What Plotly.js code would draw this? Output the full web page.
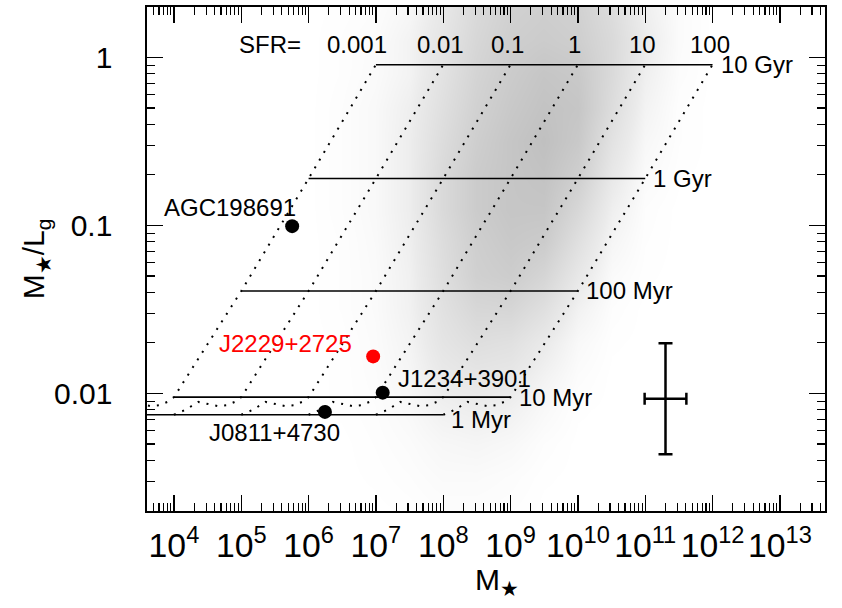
<!DOCTYPE html>
<html>
<head>
<meta charset="utf-8">
<script src="https://cdn.plot.ly/plotly-3.0.1.min.js"></script>
<style>
  html, body { margin: 0; padding: 0; background: #fff; }
  #chart { width: 842px; height: 608px; }
</style>
</head>
<body>
<div id="chart"></div>
<script>
// Constant-SFR model tracks: stellar mass-to-light ratio in g band vs age
const sfrValues = [0.001, 0.01, 0.1, 1, 10, 100];           // Msun / yr
const sfrLabels = ['0.001', '0.01', '0.1', '1', '10', '100'];
const modelAges = [1e6, 1.5e6, 2.3e6, 3.1e6, 4.5e6, 6e6, 8e6, 1e7, 1e8, 1e9, 1e10]; // yr
const modelML   = [0.00746, 0.0080, 0.0089, 0.0087, 0.0084, 0.0085, 0.0089, 0.0095, 0.0407, 0.19, 0.905];

// Iso-age lines drawn across the SFR range
const ageLineAges   = [1e6, 1e7, 1e8, 1e9, 1e10];
const ageLineLabels = ['1 Myr', '10 Myr', '100 Myr', '1 Gyr', '10 Gyr'];

// Individual galaxies
const galaxyNames  = ['AGC198691', 'J2229+2725', 'J1234+3901', 'J0811+4730'];
const galaxyMass   = [5.7e5, 9.1e6, 1.26e7, 1.75e6];
const galaxyML     = [0.099, 0.0166, 0.0101, 0.00776];
const galaxyColors = ['#000000', '#ff0000', '#000000', '#000000'];

// Typical uncertainty (dex) shown as a single cross
const errCenterMass = 2.0e11;
const errCenterML   = 0.0093;
const errDexMass    = 0.31;
const errDexML      = 0.33;

// Comparison sample: relative point density on a grid of log M* (columns) and log M*/Lg (rows)
const densLogM  = [6, 6.5, 7, 7.5, 8, 8.5, 9, 9.5, 10, 10.5, 11, 11.5, 12, 12.5];
const densLogML = [-2.7, -2.5, -2.3, -2.1, -1.9, -1.7, -1.5, -1.3, -1.1, -0.9, -0.7, -0.5, -0.3, -0.1, 0.1, 0.3];
const density = [
  [0, 0,    0,    0.01, 0.03, 0.03, 0.02, 0,    0,    0,    0,    0,    0, 0],
  [0, 0,    0.01, 0.03, 0.06, 0.06, 0.04, 0.01, 0,    0,    0,    0,    0, 0],
  [0, 0,    0.02, 0.05, 0.10, 0.12, 0.09, 0.03, 0,    0,    0,    0,    0, 0],
  [0, 0.01, 0.03, 0.08, 0.18, 0.22, 0.18, 0.08, 0.01, 0,    0,    0,    0, 0],
  [0, 0.01, 0.04, 0.11, 0.27, 0.33, 0.30, 0.16, 0.04, 0,    0,    0,    0, 0],
  [0, 0.01, 0.05, 0.14, 0.36, 0.47, 0.43, 0.27, 0.08, 0.01, 0,    0,    0, 0],
  [0, 0.02, 0.06, 0.17, 0.42, 0.60, 0.62, 0.45, 0.17, 0.03, 0,    0,    0, 0],
  [0, 0.02, 0.06, 0.18, 0.47, 0.72, 0.78, 0.63, 0.31, 0.06, 0.01, 0,    0, 0],
  [0, 0.02, 0.07, 0.20, 0.50, 0.75, 0.85, 0.80, 0.45, 0.12, 0.02, 0,    0, 0],
  [0, 0.03, 0.08, 0.22, 0.55, 0.80, 0.90, 0.90, 0.60, 0.20, 0.03, 0,    0, 0],
  [0, 0.03, 0.08, 0.22, 0.55, 0.80, 0.90, 0.95, 0.75, 0.30, 0.06, 0.01, 0, 0],
  [0, 0.03, 0.08, 0.22, 0.50, 0.75, 0.90, 1.00, 0.85, 0.40, 0.10, 0.02, 0, 0],
  [0, 0.03, 0.08, 0.20, 0.45, 0.70, 0.85, 0.95, 0.90, 0.50, 0.15, 0.02, 0, 0],
  [0, 0.02, 0.06, 0.15, 0.40, 0.65, 0.80, 0.90, 0.85, 0.55, 0.20, 0.04, 0, 0],
  [0, 0.02, 0.05, 0.15, 0.35, 0.60, 0.75, 0.80, 0.75, 0.55, 0.25, 0.05, 0, 0],
  [0, 0.01, 0.03, 0.10, 0.30, 0.55, 0.70, 0.75, 0.70, 0.50, 0.20, 0.05, 0, 0]
];

const FONT = 'Liberation Sans, Arial, Helvetica, sans-serif';
const xRangeLog = [3.6, 13.67];
const yRangeLog = [-2.7, 0.3];

const traces = [];

// Sample density (base linear axes in log units, drawn underneath)
traces.push({
  type: 'heatmap',
  x: densLogM, y: densLogML, z: density,
  xaxis: 'x', yaxis: 'y',
  zmin: 0, zmax: 1, zsmooth: 'best', showscale: false, hoverinfo: 'skip',
  colorscale: [[0, '#ffffff'], [0.25, '#ebebeb'], [1, '#c0c0c0']]
});

// Constant-SFR tracks (dotted): M* = SFR x age
sfrValues.forEach(function (sfr) {
  traces.push({
    type: 'scatter', mode: 'lines', xaxis: 'x2', yaxis: 'y2',
    x: modelAges.map(function (t) { return sfr * t; }),
    y: modelML,
    line: { color: '#000', width: 2, dash: '2px,7px' },
    hoverinfo: 'skip', showlegend: false
  });
});

// Iso-age lines (solid)
ageLineAges.forEach(function (t) {
  const ml = modelML[modelAges.indexOf(t)];
  traces.push({
    type: 'scatter', mode: 'lines', xaxis: 'x2', yaxis: 'y2',
    x: [sfrValues[0] * t, sfrValues[sfrValues.length - 1] * t],
    y: [ml, ml],
    line: { color: '#000', width: 1.6 },
    hoverinfo: 'skip', showlegend: false
  });
});

// Galaxies
traces.push({
  type: 'scatter', mode: 'markers', xaxis: 'x2', yaxis: 'y2',
  x: galaxyMass, y: galaxyML, text: galaxyNames,
  marker: { size: 14, color: galaxyColors, line: { width: 0 } },
  showlegend: false
});

// Typical error cross
traces.push({
  type: 'scatter', mode: 'markers', xaxis: 'x2', yaxis: 'y2',
  x: [errCenterMass], y: [errCenterML],
  marker: { size: 1, color: 'rgba(0,0,0,0)' },
  error_x: {
    type: 'data', symmetric: false, color: '#000', thickness: 2.5, width: 6,
    array: [errCenterMass * (Math.pow(10, errDexMass) - 1)],
    arrayminus: [errCenterMass * (1 - Math.pow(10, -errDexMass))]
  },
  error_y: {
    type: 'data', symmetric: false, color: '#000', thickness: 2.5, width: 7,
    array: [errCenterML * (Math.pow(10, errDexML) - 1)],
    arrayminus: [errCenterML * (1 - Math.pow(10, -errDexML))]
  },
  hoverinfo: 'skip', showlegend: false
});

const annotations = [];
const annFont = { family: FONT, size: 24, color: '#000' };
const lg = Math.log10;

// SFR labels above the 10 Gyr line
annotations.push({
  xref: 'x2', yref: 'y2', x: 5.43, y: 0.078, text: 'SFR=',
  showarrow: false, xanchor: 'center', yanchor: 'middle', font: annFont
});
sfrValues.forEach(function (sfr, i) {
  annotations.push({
    xref: 'x2', yref: 'y2', x: lg(sfr * 1e10), y: 0.078, text: sfrLabels[i],
    xshift: i === 0 ? -19 : -3,
    showarrow: false, xanchor: 'center', yanchor: 'middle', font: annFont
  });
});

// Age labels at the right end of each iso-age line
ageLineAges.forEach(function (t, i) {
  const ml = modelML[modelAges.indexOf(t)];
  annotations.push({
    xref: 'x2', yref: 'y2',
    x: lg(sfrValues[sfrValues.length - 1] * t), y: lg(ml),
    text: ageLineLabels[i], xshift: 6, yshift: i === 0 ? -5 : 0,
    showarrow: false, xanchor: 'left', yanchor: 'middle', font: annFont
  });
});

// Galaxy names
const nameOffsets = [
  { xanchor: 'right', xshift: 6,   yshift: 19 },
  { xanchor: 'right', xshift: -19, yshift: 13 },
  { xanchor: 'left',  xshift: 13,  yshift: 14 },
  { xanchor: 'right', xshift: 17,  yshift: -21 }
];
galaxyNames.forEach(function (name, i) {
  annotations.push(Object.assign({
    xref: 'x2', yref: 'y2', x: lg(galaxyMass[i]), y: lg(galaxyML[i]),
    text: name, showarrow: false, yanchor: 'middle',
    font: { family: FONT, size: 24, color: galaxyColors[i] }
  }, nameOffsets[i]));
});

// x-axis title
annotations.push({
  xref: 'paper', yref: 'paper', x: 0.516, y: -0.14,
  text: 'M<sub>★</sub>', showarrow: false, xanchor: 'center', yanchor: 'middle',
  font: { family: FONT, size: 30, color: '#000' }
});

const axisCommon = {
  type: 'log', showgrid: false, zeroline: false,
  showline: true, linecolor: '#000', linewidth: 1.6, mirror: 'allticks',
  ticks: 'inside', ticklen: 16, tickwidth: 1.3, tickcolor: '#000',
  dtick: 1, tickangle: 0,
  minor: { ticks: 'inside', ticklen: 8, tickwidth: 1.1, tickcolor: '#000', dtick: 'D1' },
  tickfont: { family: FONT, size: 30, color: '#000' }
};

const layout = {
  width: 842, height: 608,
  margin: { l: 147, r: 17, t: 7, b: 97 },
  paper_bgcolor: '#fff', plot_bgcolor: '#fff',
  showlegend: false,
  font: { family: FONT, color: '#000' },
  xaxis: { range: xRangeLog, visible: false, fixedrange: true },
  yaxis: { range: yRangeLog, visible: false, fixedrange: true },
  xaxis2: Object.assign({}, axisCommon, {
    overlaying: 'x', anchor: 'y2', side: 'bottom', range: xRangeLog,
    exponentformat: 'power', showexponent: 'all',
    tickfont: { family: FONT, size: 27, color: '#000' },
    ticklabelstandoff: 5, automargin: false
  }),
  yaxis2: Object.assign({}, axisCommon, {
    overlaying: 'y', anchor: 'x2', side: 'left', range: yRangeLog,
    tickmode: 'array', tickvals: [0.01, 0.1, 1], ticktext: ['0.01', '0.1', '1'],
    ticklabelstandoff: 27, automargin: false,
    title: { text: 'M<sub>★</sub>/L<sub>g</sub>', font: { family: FONT, size: 30, color: '#000' }, standoff: 0 }
  }),
  annotations: annotations
};

Plotly.newPlot('chart', traces, layout, { staticPlot: true, displayModeBar: false });
</script>
</body>
</html>
